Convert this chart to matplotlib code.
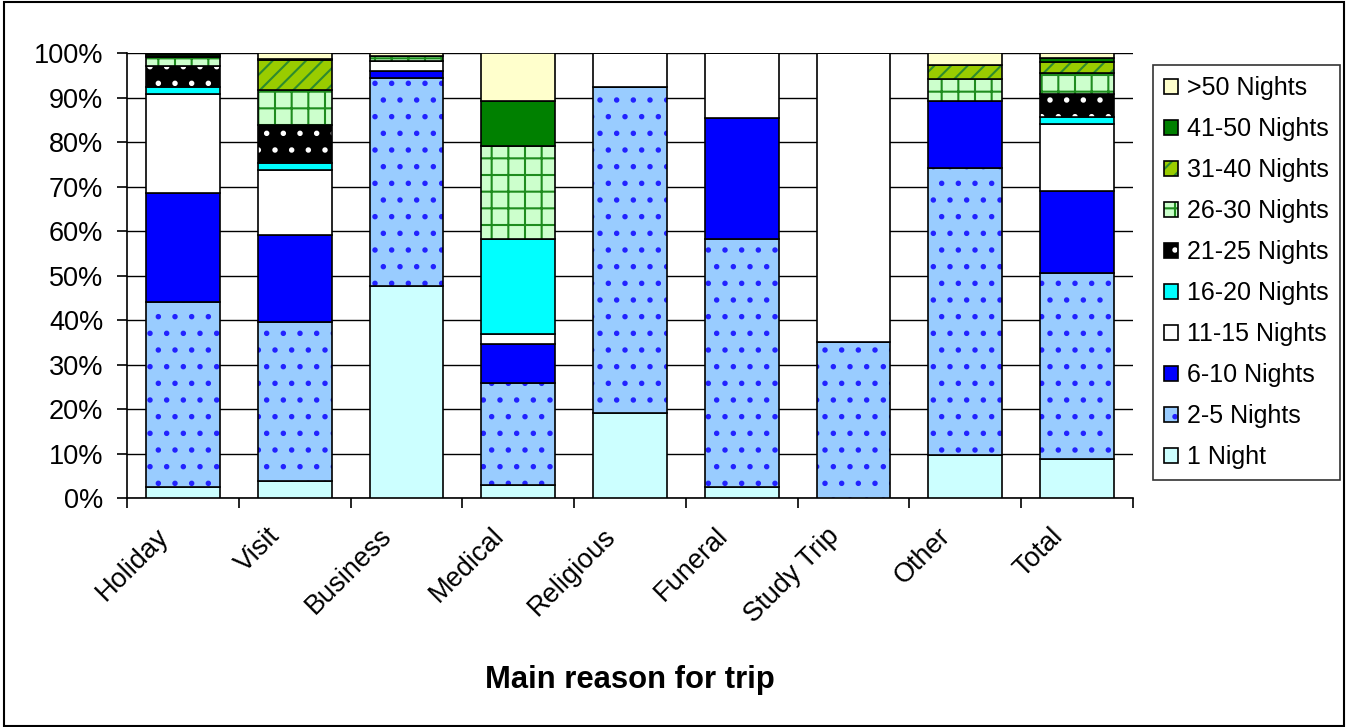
import numpy as np
import matplotlib.pyplot as plt
from matplotlib.colors import to_rgba
from matplotlib.patches import Rectangle
from matplotlib.transforms import ScaledTranslation

plt.rcParams['font.family'] = ['Liberation Sans', 'DejaVu Sans']
plt.rcParams['hatch.linewidth'] = 1.5

reasons = ['Holiday', 'Visit', 'Business', 'Medical', 'Religious',
           'Funeral', 'Study Trip', 'Other', 'Total']
series_names = ['1 Night', '2-5 Nights', '6-10 Nights', '11-15 Nights',
                '16-20 Nights', '21-25 Nights', '26-30 Nights',
                '31-40 Nights', '41-50 Nights', '>50 Nights']

# percent of trips, per reason
one_night      = [2.5, 3.9, 47.6, 2.9, 19.0, 2.4, 0.0, 9.6, 8.8]
two_five       = [41.5, 35.7, 46.8, 22.9, 73.4, 55.8, 35.0, 64.6, 41.8]
six_ten        = [24.5, 19.5, 1.6, 8.8, 0.0, 27.1, 0.0, 15.1, 18.4]
eleven_fifteen = [22.3, 14.6, 2.3, 2.3, 7.6, 14.7, 65.0, 0.0, 15.0]
sixteen_twenty = [1.6, 1.6, 0.0, 21.3, 0.0, 0.0, 0.0, 0.0, 1.6]
twentyone_25   = [4.7, 8.5, 0.0, 0.0, 0.0, 0.0, 0.0, 0.0, 5.2]
twentysix_30   = [2.0, 7.9, 1.0, 20.9, 0.0, 0.0, 0.0, 4.8, 4.8]
thirtyone_40   = [0.3, 6.7, 0.0, 0.0, 0.0, 0.0, 0.0, 3.2, 2.5]
fortyone_50    = [0.5, 0.2, 0.0, 10.2, 0.0, 0.0, 0.0, 0.0, 0.8]
over_50        = [0.1, 1.4, 0.7, 10.7, 0.0, 0.0, 0.0, 2.7, 1.1]

series = [one_night, two_five, six_ten, eleven_fifteen, sixteen_twenty,
          twentyone_25, twentysix_30, thirtyone_40, fortyone_50, over_50]

fills = ['#CCFFFF', '#99CCFF', '#0000FF', '#FFFFFF', '#00FFFF',
         '#000000', '#CCFFCC', '#99CC00', '#008000', '#FFFFCC']
hatches = [None, '.', None, None, None, '.', '+', '//', None, None]
hatch_cols = [None, '#2222FF', None, None, None, 'white', '#1E8C1E', '#2E8B2E', None, None]

fig = plt.figure(figsize=(13.48, 7.27), dpi=100)
ax = fig.add_axes([0.0942, 0.315, 0.7463, 0.612])

x = np.arange(len(reasons))
bottom = np.zeros(len(reasons))
handles = []
for vals, name, fc, h, hc in zip(series, series_names, fills, hatches, hatch_cols):
    vals = np.array(vals)
    bars = ax.bar(x, vals, 0.66, bottom=bottom, color=fc, edgecolor='black',
                  linewidth=1.2, hatch=h, label=name, zorder=3)
    if hc:
        for p in bars:
            p._hatch_color = to_rgba(hc)
    handles.append(bars)
    bottom += vals

ax.set_xlim(-0.5, len(reasons) - 0.5)
ax.set_ylim(0, 100)
ax.set_yticks(range(0, 101, 10), labels=[f'{v}%' for v in range(0, 101, 10)])
ax.set_xticks(np.arange(-0.5, len(reasons), 1), labels=[])
ax.set_xticks(x, labels=reasons, minor=True, rotation=45, ha='right', va='top')
ax.tick_params(axis='y', length=7, width=1.2, pad=10, labelsize=19.5)
ax.tick_params(axis='x', which='major', length=7, width=1.2)
ax.tick_params(axis='x', which='minor', length=0, pad=18, labelsize=19.5)
for lab in ax.get_xticklabels(minor=True):
    lab.set_transform(lab.get_transform() + ScaledTranslation(-0.09, 0, fig.dpi_scale_trans))

ax.yaxis.grid(True, color='black', linewidth=1.0)
ax.set_axisbelow(True)
for s in ['top', 'right']:
    ax.spines[s].set_visible(False)
for s in ['left', 'bottom']:
    ax.spines[s].set_linewidth(1.2)

fig.text(630 / 1348, 1 - 680 / 727, 'Main reason for trip', ha='center', va='center',
         fontsize=22.3, fontweight='bold')

leg = ax.legend(handles[::-1], series_names[::-1], loc='upper left',
                bbox_to_anchor=(0.8553, 0.9106), bbox_transform=fig.transFigure,
                fontsize=18, frameon=True, fancybox=False, edgecolor='black',
                handlelength=0.55, handleheight=0.55, handletextpad=0.35,
                labelspacing=0.68, borderpad=0.45, borderaxespad=0)
leg.get_frame().set_linewidth(1.2)

fig.patches.append(Rectangle((0.003, 0.002), 0.994, 0.995, transform=fig.transFigure,
                             fill=False, edgecolor='black', linewidth=1.5))

fig.savefig('out.png', dpi=100)
